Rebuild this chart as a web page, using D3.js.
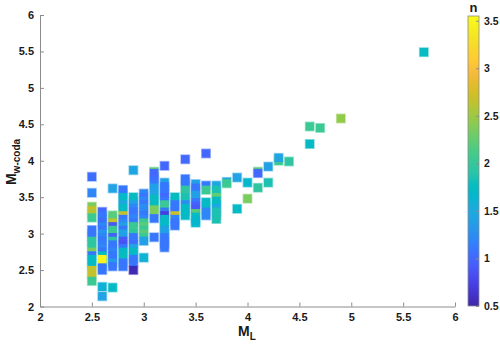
<!DOCTYPE html>
<html><head><meta charset="utf-8">
<script src="https://cdn.jsdelivr.net/npm/d3@7"></script>
<style>
body{margin:0;background:#fff}
svg{font-family:"Liberation Sans",Arial,Helvetica,sans-serif}
</style>
</head><body>
<svg id="c" width="500" height="346"></svg>
<script>
// ---- data ----
const mlCols = [2.5,2.6,2.7,2.8,2.9,3.0,3.1,3.2,3.3,3.4,3.5,3.6,3.7,3.8,3.9,4.0,4.1,4.2,4.3,4.4,4.6,4.7,4.9,5.7];
const mwByCol = [
  [3.78,3.56,3.37,3.32,3.27,3.22,3.05,3.0,2.95,2.9,2.85,2.8,2.75,2.7,2.65,2.6,2.55,2.5,2.45,2.4,2.35],
  [3.3,3.25,3.2,3.15,3.1,3.05,3.0,2.95,2.9,2.85,2.8,2.75,2.7,2.6,2.55,2.5,2.65,2.27,2.14],
  [3.62,3.25,3.2,3.15,3.1,3.05,3.0,2.95,2.9,2.85,2.8,2.75,2.7,2.65,2.6,2.55,2.26],
  [3.6,3.55,3.5,3.45,3.4,3.35,3.3,3.25,3.2,3.15,3.1,3.05,3.0,2.95,2.9,2.85,2.8,2.75,2.7,2.65,2.6,2.55],
  [3.87,3.5,3.45,3.4,3.35,3.3,3.25,3.2,3.15,3.1,3.05,3.0,2.95,2.9,2.85,2.8,2.75,2.7,2.65,2.6,2.5],
  [3.55,3.5,3.45,3.4,3.35,3.3,3.25,3.2,3.15,3.1,3.05,3.0,2.95,2.9,2.67],
  [3.85,3.83,3.78,3.73,3.68,3.63,3.58,3.53,3.48,3.43,3.38,3.33,3.28,3.21,2.95],
  [3.93,3.7,3.65,3.6,3.55,3.5,3.45,3.4,3.35,3.3,3.25,3.2,3.15,3.1,3.05,3.0,2.95,2.9,2.85,2.81],
  [3.5,3.45,3.4,3.35,3.3,3.25,3.2,3.15,3.11],
  [4.02,3.75,3.7,3.65,3.6,3.55,3.5,3.45,3.4,3.35,3.3,3.25],
  [3.68,3.63,3.58,3.53,3.48,3.43,3.38,3.33,3.28,3.23,3.18,3.15],
  [4.1,3.66,3.6,3.43,3.38,3.3,3.25],
  [3.66,3.6,3.55,3.5,3.45,3.4,3.35,3.3,3.25,3.2],
  [3.71,3.69],
  [3.77,3.34],
  [3.7,3.48],
  [3.85,3.83,3.63],
  [3.92,3.7],
  [4.0,4.04],
  [3.99],
  [4.47,4.23],
  [4.45],
  [4.58],
  [5.49]
];
const nByCol = [
  [1.05,1.2,2.35,2.65,2.6,2.05,1.1,1.1,1.1,1.95,1.95,1.95,2.35,1.1,1.72,1.72,1.72,2.65,2.65,2.65,2.05],
  [1.0,1.1,1.1,1.05,1.2,1.1,1.3,1.2,1.1,1.15,1.2,1.1,1.72,1.72,1.1,1.1,3.5,1.6,1.42],
  [1.42,2.2,2.2,2.65,0.9,2.05,2.05,0.95,1.95,1.1,1.1,1.2,1.1,1.1,1.35,1.1,1.72],
  [1.1,1.1,1.65,1.72,1.45,1.72,1.75,2.65,1.1,1.2,1.4,1.1,1.42,1.4,0.9,0.85,1.1,1.72,1.75,1.75,1.1,1.1],
  [1.45,1.75,1.72,1.4,1.2,1.1,1.1,1.2,1.1,2.05,2.05,1.95,1.1,1.1,1.05,1.45,1.75,1.72,1.1,1.1,0.55],
  [1.2,1.1,1.2,1.1,1.25,1.2,1.1,1.2,2.05,2.2,2.05,2.2,2.05,1.4,1.6],
  [2.2,1.0,1.0,1.05,1.1,1.4,1.4,1.42,1.75,1.75,1.75,2.35,2.35,1.1,1.1],
  [1.0,1.4,1.1,1.1,1.1,1.0,1.1,2.05,2.05,1.1,0.7,1.72,1.72,1.72,1.4,1.4,1.1,1.1,1.1,1.1],
  [1.75,1.75,1.1,1.1,1.1,2.7,1.2,1.1,1.1],
  [1.0,1.1,1.1,1.1,1.95,1.95,1.85,1.85,1.25,1.72,1.72,1.72],
  [1.4,1.1,1.1,1.4,1.4,1.1,0.95,0.9,2.2,1.72,1.65,1.65],
  [1.0,1.1,2.05,1.72,1.72,1.2,1.2],
  [1.45,1.85,1.85,2.25,1.72,1.72,1.45,1.85,1.85,1.85],
  [1.45,2.05],
  [1.42,1.72],
  [1.65,2.35],
  [2.2,1.0,1.95],
  [1.4,1.85],
  [2.05,1.42],
  [1.95],
  [2.05,1.72],
  [2.05],
  [2.45],
  [1.75]
];
const xTicks = [2,2.5,3,3.5,4,4.5,5,5.5,6];
const yTicks = [2,2.5,3,3.5,4,4.5,5,5.5,6];
const cTicks = [0.5,1,1.5,2,2.5,3,3.5];
const cDomain = [0.5,3.55];

// parula colormap
const parula = [
[0.2422,0.1504,0.6603],[0.2647,0.1978,0.7952],[0.2783,0.2559,0.8991],[0.2810,0.3228,0.9579],
[0.2699,0.3892,0.9906],[0.2206,0.4603,0.9973],[0.1786,0.5289,0.9682],[0.1540,0.5902,0.9218],
[0.1248,0.6459,0.8883],[0.0952,0.6798,0.8598],[0.0036,0.7203,0.7917],[0.0433,0.7411,0.7394],
[0.1717,0.7670,0.6554],[0.2161,0.7843,0.5923],[0.2906,0.7973,0.5188],[0.3909,0.8029,0.4354],
[0.5044,0.7993,0.3480],[0.6174,0.7876,0.2612],[0.7242,0.7698,0.1910],[0.8203,0.7498,0.1535],
[0.9035,0.7330,0.1774],[0.9728,0.7298,0.2394],[0.9952,0.7893,0.2028],[0.9786,0.8386,0.1766],
[0.9610,0.8890,0.1537],[0.9628,0.9373,0.1265],[0.9769,0.9839,0.0805]
].map(c => d3.rgb(c[0]*255,c[1]*255,c[2]*255).toString());
const parulaInterp = d3.piecewise(d3.interpolateRgb, parula);
const color = d3.scaleSequential(cDomain, parulaInterp).clamp(true);

const svg = d3.select("#c");
const x = d3.scaleLinear([2,6],[40,455]);
const y = d3.scaleLinear([2,6],[306.5,15]);

const pts = [];
mlCols.forEach((ml,i) => mwByCol[i].forEach((mw,j) => pts.push({ml, mw, n: nByCol[i][j]})));

// halo pass then body pass
const S = 10, s = 8.4;
svg.append("g").selectAll("rect").data(pts).join("rect")
  .attr("x", d => x(d.ml) - S/2).attr("y", d => y(d.mw) - S/2)
  .attr("width", S).attr("height", S)
  .attr("fill", d => d3.interpolateRgb(color(d.n), "#fff")(0.55));
svg.append("g").selectAll("rect").data(pts).join("rect")
  .attr("x", d => x(d.ml) - s/2).attr("y", d => y(d.mw) - s/2)
  .attr("width", s).attr("height", s)
  .attr("fill", d => color(d.n));

const axisColor = "#8c8c8c";
const fmt = d3.format("~g");
const gx = svg.append("g").attr("transform","translate(0,306.5)")
  .call(d3.axisBottom(x).tickValues(xTicks).tickFormat(fmt).tickSizeInner(-4).tickSizeOuter(0).tickPadding(7));
const gy = svg.append("g").attr("transform","translate(40,0)")
  .call(d3.axisLeft(y).tickValues(yTicks).tickFormat(fmt).tickSizeInner(-4).tickSizeOuter(0).tickPadding(6));
[gx,gy].forEach(g => {
  g.select(".domain").attr("stroke", axisColor);
  g.selectAll(".tick line").attr("stroke", axisColor);
  g.selectAll(".tick text").attr("fill","#1a1a1a").attr("font-size","11px").attr("font-weight","bold")
    .attr("font-family",'"Liberation Sans",Arial,sans-serif');
});

// axis labels
const xl = svg.append("text").attr("x",247).attr("y",336).attr("text-anchor","middle")
  .attr("font-size","14px").attr("font-weight","bold").attr("fill","#1a1a1a");
xl.append("tspan").text("M");
xl.append("tspan").attr("font-size","10px").attr("dy",4).text("L");

const yl = svg.append("text").attr("transform","translate(16,162) rotate(-90)").attr("text-anchor","middle")
  .attr("font-size","14px").attr("font-weight","bold").attr("fill","#1a1a1a");
yl.append("tspan").text("M");
yl.append("tspan").attr("font-size","10px").attr("dy",4).text("w-coda");

// colorbar
const cbX = 468, cbW = 11, cbTop = 16, cbBot = 306;
const cy = d3.scaleLinear(cDomain,[cbBot,cbTop]);
const defs = svg.append("defs");
const grad = defs.append("linearGradient").attr("id","cbg").attr("x1",0).attr("y1",1).attr("x2",0).attr("y2",0);
d3.range(0,1.0001,0.02).forEach(t => grad.append("stop").attr("offset",t).attr("stop-color",parulaInterp(t)));
svg.append("rect").attr("x",cbX).attr("y",cbTop).attr("width",cbW).attr("height",cbBot-cbTop)
  .attr("fill","url(#cbg)").attr("stroke",axisColor).attr("stroke-width",0.8);
const gc = svg.append("g").attr("transform",`translate(${cbX+cbW},0)`)
  .call(d3.axisRight(cy).tickValues(cTicks).tickFormat(fmt).tickSizeInner(-3).tickSizeOuter(0).tickPadding(5));
gc.select(".domain").remove();
gc.selectAll(".tick line").attr("stroke", axisColor);
gc.selectAll(".tick text").attr("fill","#1a1a1a").attr("font-size","10.5px").attr("font-weight","bold");
svg.append("text").attr("x",cbX+cbW/2).attr("y",12).attr("text-anchor","middle")
  .attr("font-size","13px").attr("font-weight","bold").attr("fill","#1a1a1a").text("n");
</script>
</body></html>
